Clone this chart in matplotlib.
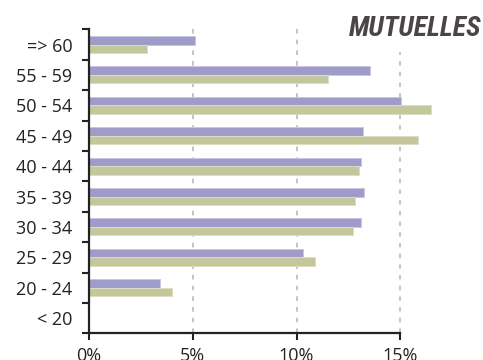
import matplotlib
matplotlib.use('Agg')
import matplotlib.pyplot as plt
from matplotlib import font_manager
import numpy as np

# age bands, top to bottom
categories = ['=> 60', '55 - 59', '50 - 54', '45 - 49', '40 - 44',
              '35 - 39', '30 - 34', '25 - 29', '20 - 24', '< 20']
# share of members per band (%)
serie_a = [5.1, 13.55, 15.05, 13.2, 13.1, 13.27, 13.1, 10.33, 3.4, 0.0]
serie_b = [2.78, 11.5, 16.47, 15.86, 13.0, 12.84, 12.74, 10.88, 4.0, 0.0]
x_ticks = [0, 5, 10, 15]
x_ticklabels = ['0%', '5%', '10%', '15%']
title = 'MUTUELLES'

available = set(f.name for f in font_manager.fontManager.ttflist)

def pick(names):
    for n in names:
        if n in available:
            return n
    return 'DejaVu Sans'

label_font = pick(['Open Sans', 'Noto Sans', 'DejaVu Sans'])
title_font = pick(['Roboto Condensed', 'Liberation Sans Narrow', 'DejaVu Sans Condensed', 'DejaVu Sans'])

plt.rcParams['font.family'] = [label_font, 'DejaVu Sans']

fig = plt.figure(figsize=(4.83, 3.6), dpi=100)
ax = fig.add_axes([89 / 483, 1 - 333.3 / 360, (400.3 - 89) / 483, (333.3 - 29.3) / 360])

y = np.arange(len(categories))
h = 0.28
ax.barh(y - h / 2, serie_a, height=h, color='#a09cca', edgecolor='#c9c6e4',
        linewidth=0.7, clip_on=False, zorder=2)
ax.barh(y + h / 2, serie_b, height=h, color='#c4c79c', edgecolor='#dcdec4',
        linewidth=0.7, clip_on=False, zorder=2)

ax.set_xlim(0, 15)
ax.set_ylim(len(categories) - 0.5, -0.5)

for x in x_ticks[1:]:
    ax.axvline(x, color='#b4b4b4', linestyle=(0, (3, 4)), linewidth=1.1,
               clip_on=False, zorder=1)

ax.set_xticks(x_ticks)
ax.set_xticklabels(x_ticklabels, fontsize=13, color='#222222')
ax.set_yticks(y)
ax.set_yticklabels(categories, fontsize=13, color='#222222')
ax.set_yticks(np.arange(len(categories) + 1) - 0.5, minor=True)
ax.tick_params(axis='y', which='major', length=0, pad=12)
ax.tick_params(axis='y', which='minor', length=5, width=1.5, color='#222222', direction='out')
ax.tick_params(axis='x', length=5, width=1.5, color='#222222', pad=5)

for side in ['top', 'right']:
    ax.spines[side].set_visible(False)
for side in ['left', 'bottom']:
    ax.spines[side].set_linewidth(1.6)
    ax.spines[side].set_color('#222222')

fig.text(481 / 483, 1 - 29 / 360, title, ha='right', va='center',
         fontsize=20, fontweight='heavy', style='italic', color='#4b4547',
         family=[title_font, 'DejaVu Sans'],
         bbox=dict(boxstyle='square,pad=0.35', facecolor='white', edgecolor='none'))

fig.savefig('out.png', dpi=100)
